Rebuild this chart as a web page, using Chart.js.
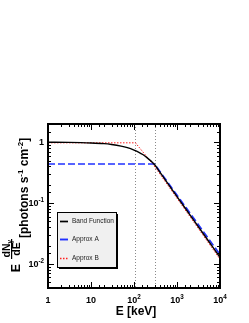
<!DOCTYPE html>
<html>
<head>
<meta charset="utf-8">
<script src="https://cdn.jsdelivr.net/npm/chart.js@4.4.0/dist/chart.umd.min.js"></script>
<style>
body { margin: 0; background: #fff; }
canvas { display: block; }
</style>
</head>
<body>
<canvas id="chart_band" width="249" height="323"></canvas>
<script>
// values
var bandEnergy = [1, 3, 10, 20, 30, 50, 70, 100, 130, 160, 200, 250, 300, 400, 500, 1000, 2000, 5000, 10000];
var bandFlux = [1.0, 0.995, 0.975, 0.95, 0.92, 0.865, 0.815, 0.745, 0.685, 0.63, 0.56, 0.49, 0.43, 0.322, 0.257, 0.128, 0.064, 0.0256, 0.0128];
var approxAEnergy = [1, 300, 10000];
var approxAFlux = [0.44, 0.44, 0.0142];
var approxBEnergy = [1, 108, 280, 10000];
var approxBFlux = [0.98, 0.98, 0.43, 0.0119];
var markerEnergy = [108, 300];

var xMajorTicks = [1, 10, 100, 1000, 10000];
var xTickLabels = [["1", ""], ["10", ""], ["10", "2"], ["10", "3"], ["10", "4"]];
var yMajorTicks = [0.01, 0.1, 1];
var yTickLabels = [["10", "-2"], ["10", "-1"], ["1", ""]];

var seriesNames = ["Band Function", "Approx A", "Approx B"];

function toPoints(xs, ys) {
    var pts = [];
    for (var i = 0; i < xs.length; i++) {
        pts.push({ x: xs[i], y: ys[i] });
    }
    return pts;
}

function isMajor(v, list) {
    for (var i = 0; i < list.length; i++) {
        if (Math.abs(v - list[i]) / list[i] < 1e-6) return i;
    }
    return -1;
}

function font(size, bold) {
    return (bold ? "bold " : "") + size + "px 'Liberation Sans', Arial, sans-serif";
}

function drawPowLabel(ctx, parts, x, y, align, size) {
    ctx.font = font(size, true);
    var w1 = ctx.measureText(parts[0]).width;
    ctx.font = font(size * 0.7, true);
    var w2 = parts[1] ? ctx.measureText(parts[1]).width : 0;
    var total = w1 + w2;
    var left = align == "center" ? x - total / 2 : x - total;
    ctx.textAlign = "left";
    ctx.font = font(size, true);
    ctx.fillText(parts[0], left, y);
    if (parts[1]) {
        ctx.font = font(size * 0.7, true);
        ctx.fillText(parts[1], left + w1, y - size * 0.42);
    }
}

var markerLines = {
    id: 'markerLines',
    beforeDatasetsDraw: function(chart) {
        var ctx = chart.ctx;
        var xs = chart.scales.x;
        var area = chart.chartArea;
        ctx.save();
        ctx.strokeStyle = "#8a8a8a";
        ctx.lineWidth = 1;
        ctx.setLineDash([1, 2]);
        for (var i = 0; i < markerEnergy.length; i++) {
            var px = Math.round(xs.getPixelForValue(markerEnergy[i])) + 0.5;
            ctx.beginPath();
            ctx.moveTo(px, area.top);
            ctx.lineTo(px, area.bottom);
            ctx.stroke();
        }
        ctx.restore();
    }
};

var frameDecor = {
    id: 'frameDecor',
    afterDraw: function(chart) {
        var ctx = chart.ctx;
        var area = chart.chartArea;
        var xs = chart.scales.x;
        var ys = chart.scales.y;
        ctx.save();

        // frame
        ctx.strokeStyle = "#000";
        ctx.lineWidth = 2;
        ctx.strokeRect(area.left, area.top, area.right - area.left, area.bottom - area.top);

        // ticks inside on all four sides
        ctx.lineWidth = 1;
        ctx.beginPath();
        for (var i = 0; i < xs.ticks.length; i++) {
            var v = xs.ticks[i].value;
            var px = Math.round(xs.getPixelForValue(v)) + 0.5;
            var len = isMajor(v, xMajorTicks) >= 0 ? 6 : 3;
            ctx.moveTo(px, area.bottom);
            ctx.lineTo(px, area.bottom - len);
            ctx.moveTo(px, area.top);
            ctx.lineTo(px, area.top + len);
        }
        for (var j = 0; j < ys.ticks.length; j++) {
            var w = ys.ticks[j].value;
            var py = Math.round(ys.getPixelForValue(w)) + 0.5;
            var ylen = isMajor(w, yMajorTicks) >= 0 ? 6 : 3;
            ctx.moveTo(area.left, py);
            ctx.lineTo(area.left + ylen, py);
            ctx.moveTo(area.right, py);
            ctx.lineTo(area.right - ylen, py);
        }
        ctx.stroke();

        // tick labels
        ctx.fillStyle = "#000";
        ctx.textBaseline = "alphabetic";
        for (var a = 0; a < xMajorTicks.length; a++) {
            drawPowLabel(ctx, xTickLabels[a], xs.getPixelForValue(xMajorTicks[a]), 303, "center", 9);
        }
        for (var b = 0; b < yMajorTicks.length; b++) {
            drawPowLabel(ctx, yTickLabels[b], area.left - 4, ys.getPixelForValue(yMajorTicks[b]) + 3, "right", 9);
        }

        // x title
        ctx.font = font(12, true);
        ctx.textAlign = "center";
        ctx.fillText("E [keV]", 136, 315);

        // y title, rotated
        ctx.save();
        ctx.rotate(-Math.PI / 2);
        ctx.font = font(12.5, true);
        ctx.textAlign = "center";
        ctx.fillText("E", -268, 20);
        ctx.font = font(10.5, true);
        ctx.fillText("dE", -249, 20);
        ctx.textAlign = "left";
        var nw = ctx.measureText("dN").width;
        var nx = -249 - (nw + 3) / 2;
        ctx.fillText("dN", nx, 9.5);
        ctx.font = font(6.5, true);
        ctx.fillText("\u03b3", nx + nw, 12);
        ctx.fillRect(-259, 11, 20, 1.2);
        // bracket part with superscripts
        var pieces = [["[photons s", 0], ["-1", 1], [" cm", 0], ["-2", 1], ["]", 0]];
        var u = -238;
        for (var k = 0; k < pieces.length; k++) {
            ctx.font = pieces[k][1] ? font(8, true) : font(12, true);
            ctx.fillText(pieces[k][0], u, pieces[k][1] ? 22.5 : 27.5);
            u += ctx.measureText(pieces[k][0]).width;
        }
        ctx.restore();

        // legend with shadow
        var lx = 57, ly = 212, lw = 59, lh = 55;
        ctx.fillStyle = "#000";
        ctx.fillRect(lx + 2, ly + 2, lw, lh);
        ctx.fillStyle = "#f0f0f0";
        ctx.fillRect(lx, ly, lw, lh);
        ctx.strokeStyle = "#000";
        ctx.lineWidth = 1;
        ctx.setLineDash([]);
        ctx.strokeRect(lx + 0.5, ly + 0.5, lw, lh);
        var rows = [221.5, 239.5, 258.5];
        var sets = chart.data.datasets;
        for (var r = 0; r < rows.length; r++) {
            ctx.strokeStyle = sets[r].borderColor;
            ctx.lineWidth = sets[r].borderWidth + 0.3;
            ctx.setLineDash(r == 1 ? [] : (sets[r].borderDash || []));
            ctx.beginPath();
            ctx.moveTo(60, rows[r]);
            ctx.lineTo(68, rows[r]);
            ctx.stroke();
            ctx.setLineDash([]);
            ctx.fillStyle = "#222";
            ctx.font = font(6.5, false);
            ctx.textAlign = "left";
            ctx.textBaseline = "middle";
            ctx.fillText(sets[r].label, 72, rows[r]);
        }
        ctx.restore();
    }
};

var chart = new Chart(document.getElementById("chart_band"), {
    type: 'line',
    data: {
        datasets: [{
            label: seriesNames[0],
            data: toPoints(bandEnergy, bandFlux),
            borderColor: "#000000",
            borderWidth: 1.4,
            cubicInterpolationMode: 'monotone',
            pointRadius: 0,
            fill: false
        }, {
            label: seriesNames[1],
            data: toPoints(approxAEnergy, approxAFlux),
            borderColor: "#2030ff",
            borderWidth: 1.6,
            borderDash: [7, 3],
            pointRadius: 0,
            fill: false
        }, {
            label: seriesNames[2],
            data: toPoints(approxBEnergy, approxBFlux),
            borderColor: "#ff2020",
            borderWidth: 1,
            borderDash: [1.5, 1.5],
            pointRadius: 0,
            fill: false
        }]
    },
    options: {
        responsive: false,
        animation: false,
        devicePixelRatio: 1,
        layout: { padding: { top: 124, right: 29, left: 0, bottom: 0 } },
        plugins: { legend: { display: false }, tooltip: { enabled: false } },
        scales: {
            x: {
                type: 'logarithmic',
                min: 1,
                max: 10000,
                grid: { display: false, drawTicks: false },
                border: { display: false },
                ticks: { display: false, autoSkip: false },
                afterFit: function(s) { s.height = 35; }
            },
            y: {
                type: 'logarithmic',
                min: 0.004,
                max: 2,
                grid: { display: false, drawTicks: false },
                border: { display: false },
                ticks: { display: false, autoSkip: false },
                afterFit: function(s) { s.width = 48; }
            }
        }
    },
    plugins: [markerLines, frameDecor]
});
</script>
</body>
</html>
